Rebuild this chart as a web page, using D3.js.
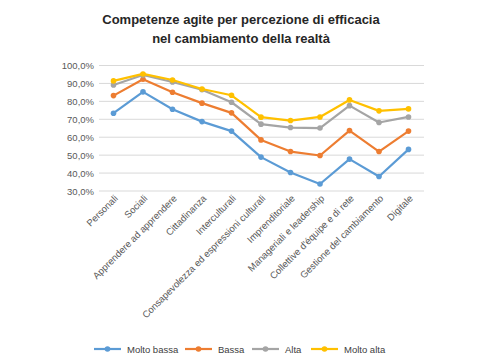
<!DOCTYPE html>
<html>
<head>
<meta charset="utf-8">
<script src="https://cdn.jsdelivr.net/npm/d3@7"></script>
<style>
  body { margin: 0; background: #fff; }
  svg { font-family: "Liberation Sans", Arial, sans-serif; }
</style>
</head>
<body>
<div id="chart"></div>
<script>
// categories and series
const categories = ["Personali", "Sociali", "Apprendere ad apprendere", "Cittadinanza", "Interculturali",
  "Consapevolezza ed espressioni culturali", "Imprenditoriale", "Manageriali e leadership",
  "Collettive d'équipe e di rete", "Gestione del cambiamento", "Digitale"];
const seriesNames = ["Molto bassa", "Bassa", "Alta", "Molto alta"];
const molteBassa = [73.4, 85.3, 75.6, 68.7, 63.4, 48.9, 40.3, 33.9, 47.8, 38.1, 53.2];
const bassa = [83.2, 92.3, 85.1, 79.0, 73.6, 58.5, 52.0, 49.8, 63.7, 52.0, 63.4];
const alta = [89.1, 94.7, 90.8, 86.5, 79.5, 67.3, 65.4, 65.1, 77.6, 68.2, 71.3];
const moltoAlta = [91.4, 95.3, 91.9, 86.9, 83.4, 71.2, 69.3, 71.3, 80.8, 74.7, 75.8];
const yTicks = [30, 40, 50, 60, 70, 80, 90, 100];
const colors = ["#5B9BD5", "#ED7D31", "#A5A5A5", "#FFC000"];

const series = [molteBassa, bassa, alta, moltoAlta].map((vals, i) => ({
  name: seriesNames[i], color: colors[i], values: vals
}));

const W = 489, H = 364;
const svg = d3.select("#chart").append("svg")
  .attr("width", W).attr("height", H);

// title
svg.append("text")
  .attr("x", 241).attr("y", 24)
  .attr("text-anchor", "middle")
  .style("font-size", "13px").style("font-weight", "bold").style("fill", "#262626")
  .selectAll("tspan")
  .data(["Competenze agite per percezione di efficacia", "nel cambiamento della realtà"])
  .join("tspan")
    .attr("x", 241)
    .attr("dy", (d, i) => i === 0 ? 0 : 19)
    .text(d => d);

const x = d3.scalePoint().domain(categories).range([113.5, 408.5]);
const y = d3.scaleLinear().domain([30, 100]).range([191, 65.5]);

// gridlines
svg.append("g")
  .selectAll("line")
  .data(yTicks)
  .join("line")
    .attr("x1", 99).attr("x2", 424)
    .attr("y1", d => y(d)).attr("y2", d => y(d))
    .attr("stroke", "#d9d9d9").attr("stroke-width", 1);

// y labels
const fmt = d => d.toFixed(1).replace(".", ",") + "%";
svg.append("g")
  .selectAll("text")
  .data(yTicks)
  .join("text")
    .attr("x", 94).attr("y", d => y(d) + 3.5)
    .attr("text-anchor", "end")
    .style("font-size", "9.5px").style("fill", "#595959")
    .text(fmt);

// x labels, rotated
svg.append("g")
  .selectAll("text")
  .data(categories)
  .join("text")
    .attr("transform", d => `translate(${x(d) + 5},${199}) rotate(-45)`)
    .attr("text-anchor", "end")
    .style("font-size", "9.5px").style("fill", "#595959")
    .text(d => d);

// lines
const line = d3.line().x((d, i) => x(categories[i])).y(d => y(d));
const sg = svg.append("g").selectAll("g").data(series).join("g");
sg.append("path")
  .attr("d", d => line(d.values))
  .attr("fill", "none")
  .attr("stroke", d => d.color)
  .attr("stroke-width", 2.2)
  .attr("stroke-linejoin", "round");
sg.selectAll("circle")
  .data(d => d.values.map(v => ({ v, color: d.color })))
  .join("circle")
    .attr("cx", (d, i) => x(categories[i]))
    .attr("cy", d => y(d.v))
    .attr("r", 2.8)
    .attr("fill", d => d.color);

// legend
const legendX = [94, 185, 252, 311];
const lg = svg.append("g").selectAll("g").data(series).join("g")
  .attr("transform", (d, i) => `translate(${legendX[i]},349)`);
lg.append("line")
  .attr("x1", 0).attr("x2", 27)
  .attr("stroke", d => d.color).attr("stroke-width", 2.2);
lg.append("circle")
  .attr("cx", 13.5).attr("r", 2.8).attr("fill", d => d.color);
lg.append("text")
  .attr("x", 33).attr("y", 3.5)
  .style("font-size", "9.5px").style("fill", "#404040")
  .text(d => d.name);
</script>
</body>
</html>
